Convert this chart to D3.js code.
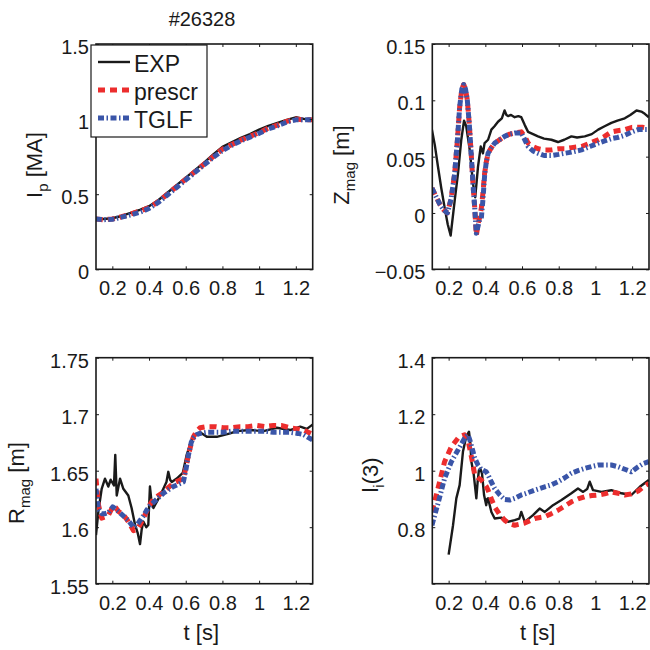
<!DOCTYPE html>
<html><head><meta charset="utf-8">
<script src="https://cdn.jsdelivr.net/npm/d3@7"></script>
<style>
body{margin:0;background:#fff}
text{font-family:"Liberation Sans",Arial,Helvetica,sans-serif;fill:#1a1a1a}
</style>
</head><body>
<svg id="c" width="650" height="650"></svg>
<script>
// ---------------- DATA ----------------
const title = "#26328";
const seriesNames = ["EXP", "prescr", "TGLF"];
const xTicks = [0.2, 0.4, 0.6, 0.8, 1.0, 1.2];
const xTickLabels = ["0.2", "0.4", "0.6", "0.8", "1", "1.2"];
const xDomain = [0.111, 1.292];

// Plasma current Ip [MA]
const ipTicks = [0, 0.5, 1, 1.5];
const ipTickLabels = ["0", "0.5", "1", "1.5"];
const ipT = [0.11,0.15,0.2,0.25,0.3,0.35,0.4,0.45,0.5,0.55,0.6,0.65,0.7,0.75,0.8,0.85,0.9,0.95,1.0,1.05,1.1,1.15,1.2,1.25,1.29];
const ipExp = [0.34,0.335,0.34,0.355,0.375,0.395,0.42,0.46,0.51,0.56,0.61,0.66,0.71,0.765,0.815,0.845,0.875,0.9,0.93,0.955,0.975,0.995,1.012,1.0,1.0];
const ipPrescr = [0.335,0.33,0.335,0.35,0.368,0.388,0.41,0.45,0.5,0.55,0.6,0.65,0.7,0.75,0.8,0.83,0.86,0.885,0.91,0.94,0.96,0.985,1.0,0.995,0.995];
const ipTglf = [0.335,0.33,0.333,0.347,0.362,0.38,0.405,0.445,0.495,0.545,0.595,0.645,0.695,0.745,0.79,0.825,0.855,0.88,0.905,0.935,0.955,0.98,0.995,0.995,0.995];

// Zmag [m]
const zTicks = [-0.05, 0, 0.05, 0.1, 0.15];
const zTickLabels = ["\u22120.05", "0", "0.05", "0.1", "0.15"];
const zTExp = [0.109,0.125,0.142,0.16,0.178,0.195,0.211,0.233,0.251,0.269,0.284,0.296,0.315,0.333,0.345,0.36,0.375,0.387,0.396,0.415,0.433,0.45,0.469,0.49,0.505,0.515,0.524,0.54,0.56,0.58,0.596,0.615,0.633,0.66,0.687,0.72,0.76,0.796,0.83,0.869,0.9,0.942,0.98,1.015,1.05,1.087,1.12,1.16,1.19,1.224,1.25,1.269,1.291];
const zExp = [0.074,0.06,0.041,0.022,0.005,-0.01,-0.02,0.011,0.035,0.065,0.082,0.077,0.056,0.026,0.014,0.041,0.059,0.053,0.062,0.065,0.074,0.077,0.081,0.084,0.091,0.087,0.086,0.087,0.085,0.086,0.085,0.078,0.072,0.07,0.068,0.066,0.065,0.063,0.065,0.068,0.067,0.068,0.07,0.074,0.077,0.08,0.082,0.084,0.087,0.091,0.09,0.088,0.085];
const zTSim = [0.109,0.13,0.151,0.172,0.193,0.213,0.233,0.248,0.26,0.272,0.282,0.292,0.302,0.313,0.324,0.333,0.342,0.351,0.36,0.369,0.378,0.387,0.396,0.405,0.415,0.433,0.451,0.478,0.505,0.533,0.56,0.596,0.615,0.633,0.66,0.687,0.72,0.76,0.8,0.833,0.87,0.924,0.97,1.015,1.05,1.087,1.12,1.16,1.2,1.233,1.26,1.291];
const zPrescr = [0.022,0.015,0.008,0.003,0.0,0.012,0.035,0.065,0.094,0.11,0.114,0.11,0.1,0.078,0.05,0.025,0.005,-0.02,-0.01,-0.004,0.004,0.018,0.035,0.045,0.053,0.058,0.062,0.065,0.068,0.07,0.071,0.072,0.068,0.062,0.059,0.057,0.056,0.056,0.057,0.057,0.058,0.059,0.062,0.065,0.068,0.072,0.073,0.074,0.076,0.076,0.076,0.075];
const zTglf = [0.022,0.015,0.008,0.003,0.0,0.012,0.035,0.065,0.094,0.11,0.114,0.11,0.1,0.078,0.05,0.025,0.005,-0.018,-0.012,-0.006,-0.005,0.012,0.033,0.045,0.053,0.058,0.062,0.065,0.068,0.07,0.071,0.071,0.065,0.059,0.055,0.053,0.051,0.051,0.052,0.053,0.054,0.056,0.059,0.062,0.064,0.066,0.067,0.069,0.072,0.074,0.074,0.074];

// Rmag [m]
const rTicks = [1.55, 1.6, 1.65, 1.7, 1.75];
const rTickLabels = ["1.55", "1.6", "1.65", "1.7", "1.75"];
const rTExp = [0.111,0.124,0.142,0.16,0.178,0.191,0.209,0.216,0.224,0.242,0.26,0.287,0.305,0.324,0.338,0.351,0.36,0.369,0.385,0.396,0.405,0.412,0.424,0.451,0.478,0.495,0.505,0.515,0.524,0.551,0.584,0.605,0.624,0.642,0.66,0.678,0.715,0.769,0.842,0.878,0.951,1.024,1.096,1.169,1.224,1.26,1.293];
const rExp = [1.593,1.614,1.634,1.643,1.636,1.642,1.637,1.664,1.628,1.643,1.634,1.628,1.617,1.602,1.595,1.585,1.598,1.605,1.6,1.602,1.636,1.625,1.617,1.625,1.634,1.64,1.649,1.642,1.64,1.643,1.648,1.664,1.673,1.68,1.682,1.684,1.68,1.68,1.683,1.685,1.686,1.685,1.688,1.686,1.689,1.687,1.691];
const rTSim = [0.111,0.124,0.142,0.16,0.18,0.202,0.22,0.233,0.26,0.287,0.315,0.335,0.351,0.369,0.387,0.405,0.424,0.451,0.478,0.505,0.533,0.56,0.587,0.6,0.615,0.63,0.642,0.66,0.678,0.715,0.76,0.805,0.85,0.896,0.94,0.987,1.03,1.078,1.12,1.169,1.21,1.242,1.293];
const rPrescr = [1.643,1.62,1.608,1.609,1.611,1.618,1.617,1.614,1.611,1.605,1.597,1.598,1.602,1.608,1.614,1.62,1.625,1.628,1.631,1.635,1.639,1.641,1.643,1.652,1.664,1.674,1.68,1.685,1.688,1.689,1.689,1.688,1.688,1.689,1.689,1.69,1.689,1.69,1.69,1.688,1.687,1.686,1.682];
const rTglf = [1.634,1.616,1.612,1.612,1.613,1.618,1.616,1.614,1.61,1.606,1.6,1.602,1.606,1.61,1.615,1.619,1.622,1.626,1.63,1.633,1.636,1.638,1.64,1.65,1.664,1.675,1.679,1.682,1.683,1.684,1.684,1.684,1.685,1.685,1.685,1.685,1.685,1.684,1.684,1.684,1.683,1.682,1.677];

// internal inductance li(3)
const liTicks = [0.6, 0.8, 1.0, 1.2, 1.4];
const liTickLabels = ["", "0.8", "1", "1.2", "1.4"];
const liTExp = [0.2,0.224,0.242,0.26,0.278,0.296,0.311,0.318,0.324,0.336,0.351,0.358,0.365,0.372,0.382,0.393,0.405,0.41,0.415,0.433,0.451,0.487,0.524,0.56,0.585,0.596,0.615,0.66,0.696,0.724,0.769,0.815,0.869,0.905,0.933,0.955,0.969,0.987,1.033,1.087,1.142,1.196,1.242,1.291];
const liExp = [0.703,0.807,0.902,0.949,1.067,1.121,1.138,1.1,1.032,0.991,0.902,0.96,1.002,1.008,0.99,0.914,0.878,0.9,0.902,0.854,0.831,0.834,0.819,0.825,0.83,0.854,0.819,0.843,0.866,0.854,0.878,0.896,0.92,0.937,0.925,0.935,0.961,0.931,0.925,0.931,0.92,0.914,0.943,0.967];
const liTSim = [0.109,0.142,0.178,0.215,0.251,0.27,0.287,0.305,0.315,0.333,0.342,0.36,0.378,0.405,0.415,0.433,0.451,0.478,0.505,0.533,0.56,0.596,0.615,0.669,0.724,0.76,0.796,0.833,0.869,0.905,0.942,0.98,1.015,1.05,1.087,1.124,1.16,1.196,1.233,1.26,1.291];
const liPrescr = [0.854,0.937,1.032,1.085,1.115,1.123,1.127,1.11,1.079,1.02,0.985,0.975,0.967,0.945,0.931,0.9,0.872,0.845,0.825,0.812,0.807,0.812,0.815,0.831,0.837,0.848,0.86,0.875,0.89,0.9,0.908,0.912,0.914,0.918,0.925,0.92,0.914,0.918,0.928,0.942,0.955];
const liTglf = [0.807,0.884,0.973,1.032,1.073,1.095,1.115,1.127,1.11,1.067,1.045,1.02,1.005,0.996,0.985,0.96,0.937,0.915,0.898,0.896,0.902,0.914,0.918,0.931,0.943,0.95,0.961,0.975,0.991,1.0,1.008,1.015,1.02,1.02,1.02,1.014,1.005,0.996,1.014,1.025,1.032];

// ---------------- STYLE ----------------
const ink = "#1a1a1a";
const styles = {
  EXP:    {color: ink,       width: 2.4, dash: null},
  prescr: {color: "#ec2d2d", width: 5,   dash: "7,5"},
  TGLF:   {color: "#3a55a8", width: 5,   dash: "6,2.5,1.5,2.5"}
};
const zip = (t, v) => t.map((d, i) => ({t: d, v: v[i]}));

const panels = [
  {id: "ip", x0: 96, x1: 312.7, y0: 44, y1: 269.3, ydom: [0, 1.5], ticks: ipTicks, tickLabels: ipTickLabels,
   series: {EXP: zip(ipT, ipExp), prescr: zip(ipT, ipPrescr), TGLF: zip(ipT, ipTglf)},
   label: [["I", 0], ["p", 1], [" [MA]", 0]], lx: 42, ly: 165, legend: true, title: true},
  {id: "z", x0: 432.3, x1: 649, y0: 44, y1: 269.3, ydom: [-0.05, 0.15], ticks: zTicks, tickLabels: zTickLabels,
   series: {EXP: zip(zTExp, zExp), prescr: zip(zTSim, zPrescr), TGLF: zip(zTSim, zTglf)},
   label: [["Z", 0], ["mag", 1], [" [m]", 0]], lx: 349, ly: 165},
  {id: "r", x0: 96, x1: 312.7, y0: 357.7, y1: 583.7, ydom: [1.55, 1.75], ticks: rTicks, tickLabels: rTickLabels,
   series: {EXP: zip(rTExp, rExp), prescr: zip(rTSim, rPrescr), TGLF: zip(rTSim, rTglf)},
   label: [["R", 0], ["mag", 1], [" [m]", 0]], lx: 24, ly: 483, xlabel: true},
  {id: "li", x0: 432.3, x1: 649, y0: 357.7, y1: 583.7, ydom: [0.6, 1.4], ticks: liTicks, tickLabels: liTickLabels,
   series: {EXP: zip(liTExp, liExp), prescr: zip(liTSim, liPrescr), TGLF: zip(liTSim, liTglf)},
   label: [["l", 0], ["i", 1], ["(3)", 0]], lx: 378, ly: 475, xlabel: true}
];

const svg = d3.select("#c");
const defs = svg.append("defs");

panels.forEach(p => {
  const x = d3.scaleLinear().domain(xDomain).range([p.x0, p.x1]);
  const y = d3.scaleLinear().domain(p.ydom).range([p.y1, p.y0]);
  const g = svg.append("g");

  defs.append("clipPath").attr("id", "clip-" + p.id)
    .append("rect").attr("x", p.x0).attr("y", p.y0)
    .attr("width", p.x1 - p.x0).attr("height", p.y1 - p.y0);

  // lines
  const line = d3.line().x(d => x(d.t)).y(d => y(d.v));
  const lg = g.append("g").attr("clip-path", `url(#clip-${p.id})`);
  seriesNames.forEach(name => {
    const s = styles[name];
    lg.append("path").datum(p.series[name])
      .attr("d", line).attr("fill", "none")
      .attr("stroke", s.color).attr("stroke-width", s.width)
      .attr("stroke-dasharray", s.dash)
      .attr("stroke-linejoin", "round");
  });

  // axes (ticks inward, box)
  const fmtX = (d) => xTickLabels[xTicks.indexOf(d)];
  const bottom = g.append("g").attr("transform", `translate(0,${p.y1})`)
    .call(d3.axisBottom(x).tickValues(xTicks).tickFormat(fmtX).tickSize(-3).tickPadding(12));
  const top = g.append("g").attr("transform", `translate(0,${p.y0})`)
    .call(d3.axisTop(x).tickValues(xTicks).tickFormat("").tickSize(-3));
  const fmtY = (d) => p.tickLabels[p.ticks.indexOf(d)];
  const left = g.append("g").attr("transform", `translate(${p.x0},0)`)
    .call(d3.axisLeft(y).tickValues(p.ticks).tickFormat(fmtY).tickSize(-3).tickPadding(7));
  const right = g.append("g").attr("transform", `translate(${p.x1},0)`)
    .call(d3.axisRight(y).tickValues(p.ticks).tickFormat("").tickSize(-3));
  [bottom, top, left, right].forEach(a => {
    a.select(".domain").remove();
    a.selectAll("line").attr("stroke", ink).attr("stroke-width", 1);
    a.selectAll("text").attr("font-size", 20).attr("fill", ink)
      .style("font-family", '"Liberation Sans",Arial,sans-serif');
  });
  left.selectAll("text").attr("dy", "0.48em");

  g.append("rect").attr("x", p.x0).attr("y", p.y0)
    .attr("width", p.x1 - p.x0).attr("height", p.y1 - p.y0)
    .attr("fill", "none").attr("stroke", ink).attr("stroke-width", 1.6);

  // y label
  const yl = g.append("text")
    .attr("transform", `translate(${p.lx},${p.ly}) rotate(-90)`)
    .attr("text-anchor", "middle").attr("font-size", 22);
  p.label.forEach(([txt, sub], i) => {
    const prevSub = i > 0 ? p.label[i - 1][1] : 0;
    yl.append("tspan")
      .attr("dy", sub ? 6 : (prevSub ? -6 : 0))
      .attr("font-size", sub ? 15 : 22)
      .text(txt);
  });

  if (p.xlabel) {
    g.append("text").attr("x", (p.x0 + p.x1) / 2 - 3).attr("y", 640)
      .attr("text-anchor", "middle").attr("font-size", 22).text("t [s]");
  }
  if (p.title) {
    g.append("text").attr("x", 202).attr("y", 26)
      .attr("text-anchor", "middle").attr("font-size", 20).text(title);
  }
  if (p.legend) {
    const lgd = g.append("g");
    lgd.append("rect").attr("x", 91).attr("y", 45).attr("width", 116).attr("height", 92)
      .attr("fill", "#fff").attr("stroke", ink).attr("stroke-width", 1.2);
    seriesNames.forEach((name, i) => {
      const s = styles[name];
      const yy = 62 + i * 28;
      lgd.append("line").attr("x1", 98).attr("x2", 130).attr("y1", yy).attr("y2", yy)
        .attr("stroke", s.color).attr("stroke-width", s.width).attr("stroke-dasharray", s.dash);
      lgd.append("text").attr("x", 134).attr("y", yy + 9.5).attr("font-size", 23).text(name);
    });
  }
});
</script>
</body></html>
